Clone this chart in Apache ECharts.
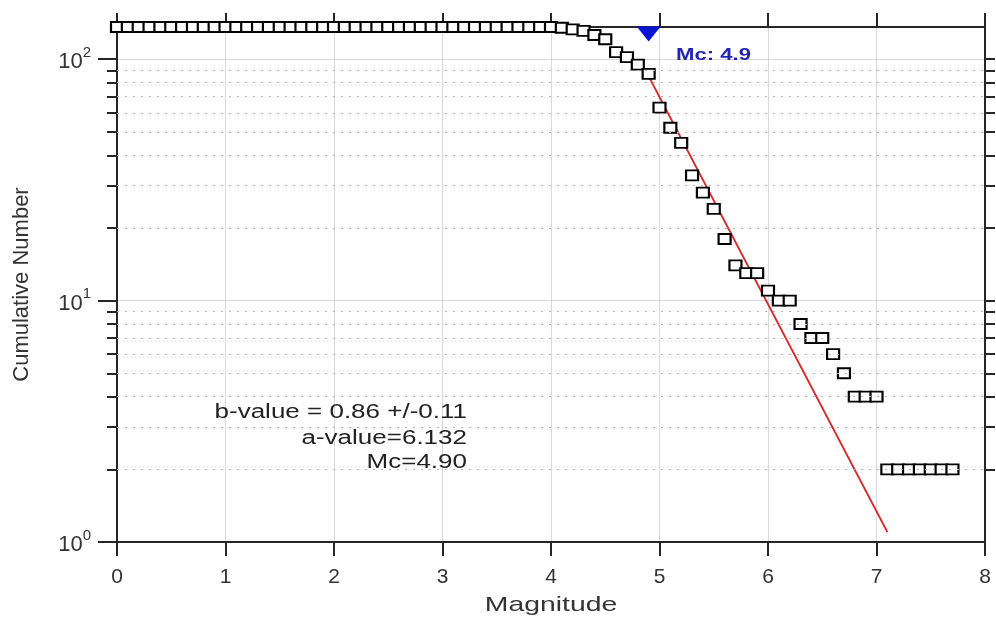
<!DOCTYPE html>
<html>
<head>
<meta charset="utf-8">
<title>Frequency-magnitude distribution</title>
<script src="https://cdn.jsdelivr.net/npm/echarts@6/dist/echarts.min.js"></script>
<style>
  html, body { margin: 0; padding: 0; background: #fff; }
  #chart { width: 996px; height: 622px; }
</style>
</head>
<body>
<div id="chart"></div>
<script>
// magnitude bins (0.1 step) and cumulative number of events
const magnitudes = [
  0.0, 0.1, 0.2, 0.3, 0.4, 0.5, 0.6, 0.7, 0.8, 0.9,
  1.0, 1.1, 1.2, 1.3, 1.4, 1.5, 1.6, 1.7, 1.8, 1.9,
  2.0, 2.1, 2.2, 2.3, 2.4, 2.5, 2.6, 2.7, 2.8, 2.9,
  3.0, 3.1, 3.2, 3.3, 3.4, 3.5, 3.6, 3.7, 3.8, 3.9,
  4.0, 4.1, 4.2, 4.3, 4.4, 4.5, 4.6, 4.7, 4.8, 4.9,
  5.0, 5.1, 5.2, 5.3, 5.4, 5.5, 5.6, 5.7, 5.8, 5.9,
  6.0, 6.1, 6.2, 6.3, 6.4, 6.5, 6.6, 6.7, 6.8, 6.9,
  7.0, 7.1, 7.2, 7.3, 7.4, 7.5, 7.6, 7.7
];
const cumulativeNumber = [
  136, 136, 136, 136, 136, 136, 136, 136, 136, 136,
  136, 136, 136, 136, 136, 136, 136, 136, 136, 136,
  136, 136, 136, 136, 136, 136, 136, 136, 136, 136,
  136, 136, 136, 136, 136, 136, 136, 136, 136, 136,
  136, 135, 133, 131, 126, 121, 107, 102, 95, 87,
  63, 52, 45, 33, 28, 24, 18, 14, 13, 13,
  11, 10, 10, 8, 7, 7, 6, 5, 4, 4,
  4, 2, 2, 2, 2, 2, 2, 2
];

// fitted Gutenberg-Richter line (end points)
const fitMagnitudes = [4.9, 7.1];
const fitNumber = [85, 1.1];

const mcValue = 4.9;
const totalEvents = 136;

const xTicks = [0, 1, 2, 3, 4, 5, 6, 7, 8];
const yMajorTicks = [1, 10, 100];
const yMinorTicks = [2, 3, 4, 5, 6, 7, 8, 9, 20, 30, 40, 50, 60, 70, 80, 90];

const FONT = '"Liberation Sans", Arial, sans-serif';
const AXIS_COLOR = '#262626';

const chart = echarts.init(document.getElementById('chart'));

const logAxisBase = {
  type: 'log',
  logBase: 10,
  min: 1,
  max: totalEvents,
  splitLine: { show: false },
  axisLabel: { show: false },
  axisLine: { show: false }
};

chart.setOption({
  animation: false,
  backgroundColor: '#fff',
  grid: { left: 117, right: 11, top: 27, bottom: 80 },
  xAxis: [
    {
      type: 'value',
      min: xTicks[0],
      max: xTicks[xTicks.length - 1],
      interval: 1,
      position: 'bottom',
      axisLine: { show: true, onZero: false, lineStyle: { color: AXIS_COLOR, width: 2 } },
      axisTick: { show: true, length: 14, lineStyle: { color: AXIS_COLOR, width: 2 } },
      axisLabel: { color: '#333', fontFamily: FONT, fontSize: 21, margin: 25 },
      splitLine: { show: true, lineStyle: { color: '#d9d9d9', width: 1 } }
    },
    {
      type: 'value',
      min: xTicks[0],
      max: xTicks[xTicks.length - 1],
      interval: 1,
      position: 'top',
      axisLine: { show: true, onZero: false, lineStyle: { color: AXIS_COLOR, width: 2 } },
      axisTick: { show: true, length: 14, lineStyle: { color: AXIS_COLOR, width: 2 } },
      axisLabel: { show: false },
      splitLine: { show: false }
    }
  ],
  yAxis: [
    {
      type: 'log',
      logBase: 10,
      min: 1,
      max: totalEvents,
      position: 'left',
      name: 'Cumulative Number',
      nameLocation: 'middle',
      nameGap: 84,
      nameTextStyle: { color: '#333', fontFamily: FONT, fontSize: 22 },
      axisLine: { show: true, onZero: false, lineStyle: { color: AXIS_COLOR, width: 2 } },
      axisTick: { show: true, length: 19, customValues: yMajorTicks, lineStyle: { color: AXIS_COLOR, width: 2 } },
      axisLabel: {
        margin: 26,
        customValues: yMajorTicks,
        formatter: function (v) {
          const e = Math.round(Math.log10(v));
          if (Math.abs(Math.pow(10, e) - v) > 1e-6) return '';
          return '{b|10}{s|' + e + '}';
        },
        rich: {
          b: { fontFamily: FONT, fontSize: 22, color: '#333', padding: [6, 0, 0, 0] },
          s: { fontFamily: FONT, fontSize: 15, color: '#333', verticalAlign: 'top', lineHeight: 15 }
        }
      },
      splitLine: { show: true, lineStyle: { color: '#d9d9d9', width: 1 } }
    },
    Object.assign({}, logAxisBase, {
      position: 'left',
      axisTick: { show: true, length: 10, customValues: yMinorTicks, lineStyle: { color: AXIS_COLOR, width: 2 } }
    }),
    Object.assign({}, logAxisBase, {
      position: 'right',
      axisLine: { show: true, onZero: false, lineStyle: { color: AXIS_COLOR, width: 2 } },
      axisTick: { show: true, length: 10, customValues: yMinorTicks.concat([10, 100]), lineStyle: { color: AXIS_COLOR, width: 2 } }
    })
  ],
  series: [
    {
      name: 'minor grid',
      type: 'line',
      data: [],
      silent: true,
      markLine: {
        silent: true,
        symbol: 'none',
        label: { show: false },
        lineStyle: { color: '#b4b4b4', width: 1, type: [2, 6] },
        data: yMinorTicks.map(v => ({ yAxis: v }))
      }
    },
    {
      name: 'fit',
      type: 'line',
      data: fitMagnitudes.map((m, i) => [m, fitNumber[i]]),
      showSymbol: false,
      lineStyle: { color: '#d42a2a', width: 1.8 },
      z: 3
    },
    {
      name: 'cumulative',
      type: 'scatter',
      data: magnitudes.map((m, i) => [m, cumulativeNumber[i]]),
      symbol: 'rect',
      symbolSize: [12, 10],
      itemStyle: { color: '#fff', borderColor: '#000', borderWidth: 2, opacity: 1 },
      clip: false,
      z: 4
    },
    {
      name: 'Mc',
      type: 'scatter',
      data: [[mcValue, totalEvents]],
      symbol: 'triangle',
      symbolRotate: 180,
      symbolSize: [24, 15],
      symbolOffset: [0, 7],
      itemStyle: { color: '#0a14d4', opacity: 1 },
      clip: false,
      z: 5
    }
  ],
  graphic: [
    {
      type: 'text', x: 676, y: 55, scaleX: 1.3, z: 100,
      style: { text: 'Mc: ' + mcValue.toFixed(1), fill: '#2424b4', font: 'bold 17px ' + FONT, align: 'left', verticalAlign: 'middle' }
    },
    {
      type: 'text', x: 467, y: 412, scaleX: 1.3, z: 100,
      style: { text: 'b-value = 0.86 +/-0.11', fill: '#222', font: '20px ' + FONT, align: 'right', verticalAlign: 'middle' }
    },
    {
      type: 'text', x: 467, y: 438, scaleX: 1.3, z: 100,
      style: { text: 'a-value=6.132', fill: '#222', font: '20px ' + FONT, align: 'right', verticalAlign: 'middle' }
    },
    {
      type: 'text', x: 467, y: 462, scaleX: 1.3, z: 100,
      style: { text: 'Mc=4.90', fill: '#222', font: '20px ' + FONT, align: 'right', verticalAlign: 'middle' }
    },
    {
      type: 'text', x: 551, y: 605, scaleX: 1.35, z: 100,
      style: { text: 'Magnitude', fill: '#333', font: '21px ' + FONT, align: 'center', verticalAlign: 'middle' }
    }
  ]
});

window.addEventListener('resize', () => chart.resize());
</script>
</body>
</html>
